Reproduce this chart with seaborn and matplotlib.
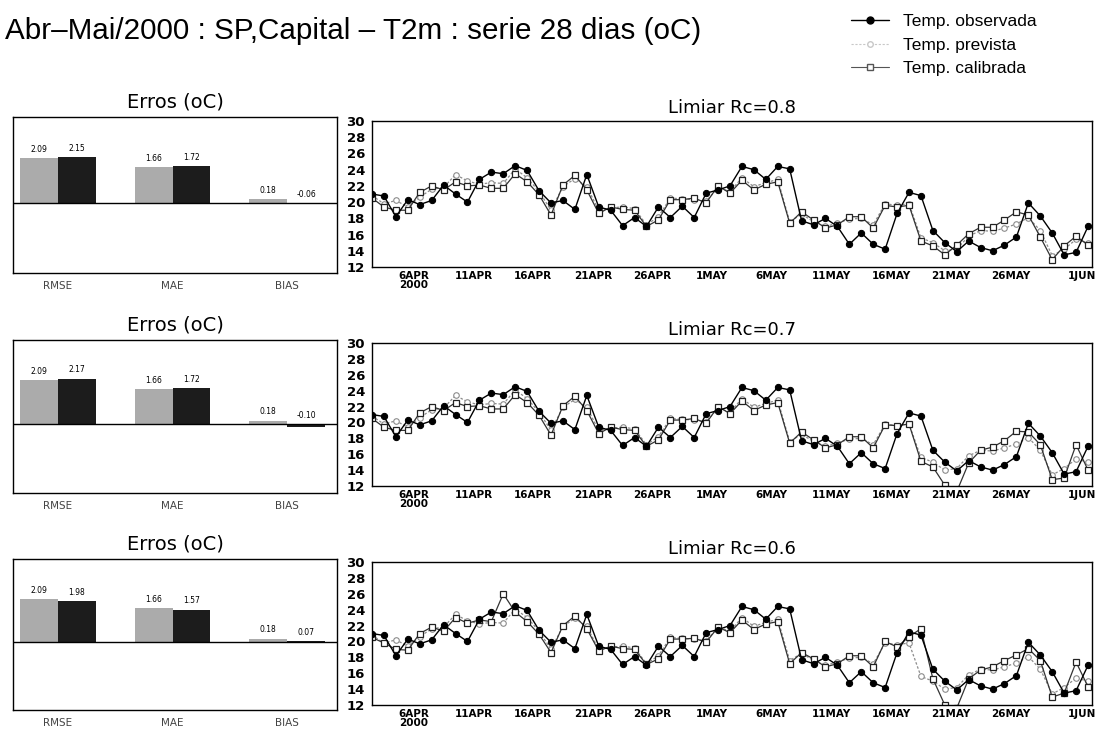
import matplotlib
matplotlib.use("Agg")
import matplotlib.pyplot as plt
from matplotlib.lines import Line2D
import pandas as pd
import seaborn as sns

sns.set_style("white")
plt.rcParams["font.family"] = ["DejaVu Sans"]
plt.rcParams["text.color"] = "black"
plt.rcParams["xtick.color"] = "black"
plt.rcParams["ytick.color"] = "black"
NARROW = ["Liberation Sans", "DejaVu Sans"]

TITLE = "Abr–Mai/2000 : SP,Capital – T2m : serie 28 dias (oC)"

# daily values at 12Z, 2 Apr 2000 .. 1 Jun 2000
START = "2000-04-02 12:00"

obs = [21.0, 20.75, 18.2, 20.3, 19.7, 20.2, 22.1, 21.0, 20.0, 22.8,
       23.7, 23.5, 24.5, 23.9, 21.4, 19.9, 20.2, 19.1, 23.4, 19.4,
       19.0, 17.1, 18.1, 17.0, 19.4, 18.1, 19.5, 18.1, 21.1, 21.5,
       22.0, 24.4, 24.0, 22.8, 24.4, 24.1, 17.7, 17.2, 18.0, 17.0,
       14.8, 16.2, 14.8, 14.2, 18.6, 21.2, 20.8, 16.5, 15.0, 13.9,
       15.2, 14.4, 14.0, 14.7, 15.7, 19.9, 18.3, 16.2, 13.5, 13.8,
       17.0]

prev = [20.8, 19.8, 20.2, 19.4, 20.6, 21.6, 21.8, 23.4, 22.6, 22.2,
        22.4, 22.3, 24.1, 23.0, 21.3, 19.0, 21.9, 22.9, 21.9, 19.0,
        19.3, 19.4, 19.2, 17.2, 18.2, 20.5, 20.4, 20.3, 20.1, 21.8,
        21.3, 23.0, 21.9, 22.4, 22.8, 17.6, 18.5, 17.6, 17.0, 17.4,
        17.9, 18.0, 17.2, 19.8, 19.6, 19.8, 15.6, 15.0, 14.0, 14.2,
        15.8, 16.5, 16.4, 16.8, 17.3, 18.1, 16.5, 13.4, 14.2, 15.4,
        15.0]

cal_08 = [20.5, 19.4, 19.0, 19.0, 21.2, 22.0, 21.5, 22.5, 22.0, 22.1,
          21.7, 21.7, 23.5, 22.5, 20.9, 18.4, 22.1, 23.3, 21.5, 18.6,
          19.4, 19.1, 19.0, 17.0, 17.8, 20.3, 20.3, 20.5, 19.9, 22.0,
          21.1, 22.7, 21.5, 22.2, 22.5, 17.4, 18.8, 17.8, 16.8, 17.2,
          18.2, 18.2, 16.8, 19.6, 19.4, 19.6, 15.2, 14.6, 13.5, 14.7,
          16.1, 16.9, 16.9, 17.8, 18.8, 18.4, 15.7, 12.9, 14.6, 15.8,
          14.7]

cal_07 = [20.5, 19.4, 19.0, 19.0, 21.2, 22.0, 21.5, 22.5, 22.0, 22.1,
          21.7, 21.7, 23.5, 22.5, 20.9, 18.4, 22.1, 23.3, 21.5, 18.6,
          19.4, 19.1, 19.0, 17.0, 17.8, 20.3, 20.3, 20.5, 19.9, 22.0,
          21.1, 22.7, 21.5, 22.2, 22.5, 17.4, 18.8, 17.8, 16.8, 17.2,
          18.2, 18.2, 16.8, 19.7, 19.6, 19.8, 15.1, 14.4, 12.1, 11.3,
          14.9, 16.5, 16.9, 17.7, 18.9, 18.8, 17.2, 12.8, 13.0, 17.2,
          14.0]

cal_06 = [20.5, 19.8, 19.0, 18.9, 21.0, 21.8, 21.3, 23.0, 22.3, 22.7,
          22.5, 26.0, 23.7, 22.5, 20.9, 18.6, 22.0, 23.2, 21.6, 18.8,
          19.4, 19.1, 19.0, 17.1, 17.8, 20.3, 20.3, 20.4, 19.9, 21.8,
          21.1, 22.7, 21.5, 22.2, 22.5, 17.2, 18.6, 17.8, 16.8, 17.2,
          18.2, 18.2, 16.8, 20.0, 19.3, 20.6, 21.6, 15.3, 12.0, 11.6,
          15.3, 16.4, 16.8, 17.6, 18.3, 19.1, 17.6, 13.0, 13.5, 17.4,
          14.3]

thresholds = ["0.8", "0.7", "0.6"]

err_metrics = ["RMSE", "MAE", "BIAS"]
err_prev = [2.09, 1.66, 0.18]
err_cal_08 = [2.15, 1.72, -0.06]
err_cal_07 = [2.17, 1.72, -0.10]
err_cal_06 = [1.98, 1.57, 0.07]

tick_dates = ["2000-04-06", "2000-04-11", "2000-04-16", "2000-04-21",
              "2000-04-26", "2000-05-01", "2000-05-06", "2000-05-11",
              "2000-05-16", "2000-05-21", "2000-05-26", "2000-06-01"]
tick_labels = ["6APR\n2000", "11APR", "16APR", "21APR", "26APR", "1MAY",
               "6MAY", "11MAY", "16MAY", "21MAY", "26MAY", "1JUN"]

# ---------------------------------------------------------------------------
# Layout (pixels of the 1095x733 figure)
# ---------------------------------------------------------------------------
W, H = 1095, 733
bar_rows = [(117, 273), (340, 493), (559, 710)]
ts_rows = [(121, 267), (343, 486), (562, 705)]
BAR_X = (13, 337)
TS_X = (372, 1092)


def px_rect(x0, x1, y0, y1):
    return [x0 / W, 1 - y1 / H, (x1 - x0) / W, (y1 - y0) / H]


def draw_errors(ax, cal_vals):
    bar_df = pd.DataFrame({
        "metrica": err_metrics * 2,
        "serie": ["prev"] * 3 + ["cal"] * 3,
        "valor": err_prev + cal_vals,
    })
    sns.barplot(data=bar_df, x="metrica", y="valor", hue="serie",
                palette={"prev": "#ababab", "cal": "#1c1c1c"},
                width=0.66, saturation=1, edgecolor="none",
                legend=False, ax=ax)
    for container in ax.containers:
        for bar in container:
            h = bar.get_height()
            ax.text(bar.get_x() + bar.get_width() / 2, max(h, 0) + 0.2,
                    f"{h:.2f}", ha="center", va="bottom", fontsize=5.5)
    ax.axhline(0, color="black", lw=1.0)
    ax.set_xlim(-0.393, 2.435)
    ax.set_ylim(-3.25, 4)
    ax.set_yticks([])
    ax.set_xlabel("")
    ax.set_ylabel("")
    ax.tick_params(axis="x", length=0, labelsize=7.5, labelcolor="#444", pad=6)
    ax.set_title("Erros (oC)", fontsize=14, pad=7)
    for s in ax.spines.values():
        s.set_color("black")
        s.set_linewidth(1.0)


def draw_series(ax, cal_vals, thr):
    df = pd.DataFrame({
        "data": pd.date_range(START, periods=len(obs), freq="D"),
        "obs": obs,
        "prev": prev,
        "cal": cal_vals,
    })
    sns.lineplot(data=df, x="data", y="prev", ax=ax, color="#8c8c8c",
                 lw=0.9, linestyle=(0, (2, 1.5)), marker="o", ms=4,
                 mfc="white", mec="#8c8c8c", mew=0.8)
    sns.lineplot(data=df, x="data", y="cal", ax=ax, color="#333333",
                 lw=0.9, marker="s", ms=5, mfc="white", mec="#222222",
                 mew=0.9)
    sns.lineplot(data=df, x="data", y="obs", ax=ax, color="black",
                 lw=1.0, marker="o", ms=4.5, mfc="black", mec="black")
    ax.set_xlim(pd.Timestamp("2000-04-02 12:00"), pd.Timestamp("2000-06-01 20:00"))
    ax.set_ylim(12, 30)
    ax.set_yticks(range(12, 31, 2))
    ax.set_xticks(pd.to_datetime(tick_dates))
    ax.set_xticklabels(tick_labels, fontsize=7.5, fontweight="bold",
                       linespacing=0.9)
    ax.tick_params(axis="y", direction="out", length=4, width=0.8, pad=1,
                   labelsize=9.5)
    ax.tick_params(axis="x", direction="in", length=3, width=0.8, pad=3)
    for lbl in ax.get_yticklabels():
        lbl.set_fontweight("bold")
    ax.set_xlabel("")
    ax.set_ylabel("")
    ax.set_title(f"Limiar Rc={thr}", fontsize=13, pad=6)
    for s in ax.spines.values():
        s.set_color("black")
        s.set_linewidth(1.0)


fig = plt.figure(figsize=(W / 100, H / 100), dpi=100)

calibrated = [cal_08, cal_07, cal_06]
cal_errors = [err_cal_08, err_cal_07, err_cal_06]
for i in range(3):
    axb = fig.add_axes(px_rect(*BAR_X, *bar_rows[i]))
    draw_errors(axb, cal_errors[i])
    axt = fig.add_axes(px_rect(*TS_X, *ts_rows[i]))
    draw_series(axt, calibrated[i], thresholds[i])

# the original title font is condensed: fit the text to its width (x 5..700)
title = fig.text(5 / W, 1 - 31 / H, TITLE, ha="left", va="center",
                 fontsize=22, family=NARROW)
renderer = fig.canvas.get_renderer()
width = title.get_window_extent(renderer).width
title.set_fontsize(22 * 695 / width)

handles = [
    Line2D([], [], color="black", lw=1.0, marker="o", ms=5, mfc="black"),
    Line2D([], [], color="#c8c8c8", lw=0.8, linestyle=(0, (2, 1.5)),
           marker="o", ms=4, mfc="white", mec="#c8c8c8"),
    Line2D([], [], color="#555555", lw=0.8, marker="s", ms=5, mfc="white",
           mec="#555555"),
]
fig.legend(handles, ["Temp. observada", "Temp. prevista", "Temp. calibrada"],
           loc="upper left", bbox_to_anchor=(835 / W, 1 + 2 / H),
           frameon=False, handlelength=2.2, labelspacing=0.5,
           prop={"family": NARROW, "size": 12.5})

fig.savefig("out.png", dpi=100)
